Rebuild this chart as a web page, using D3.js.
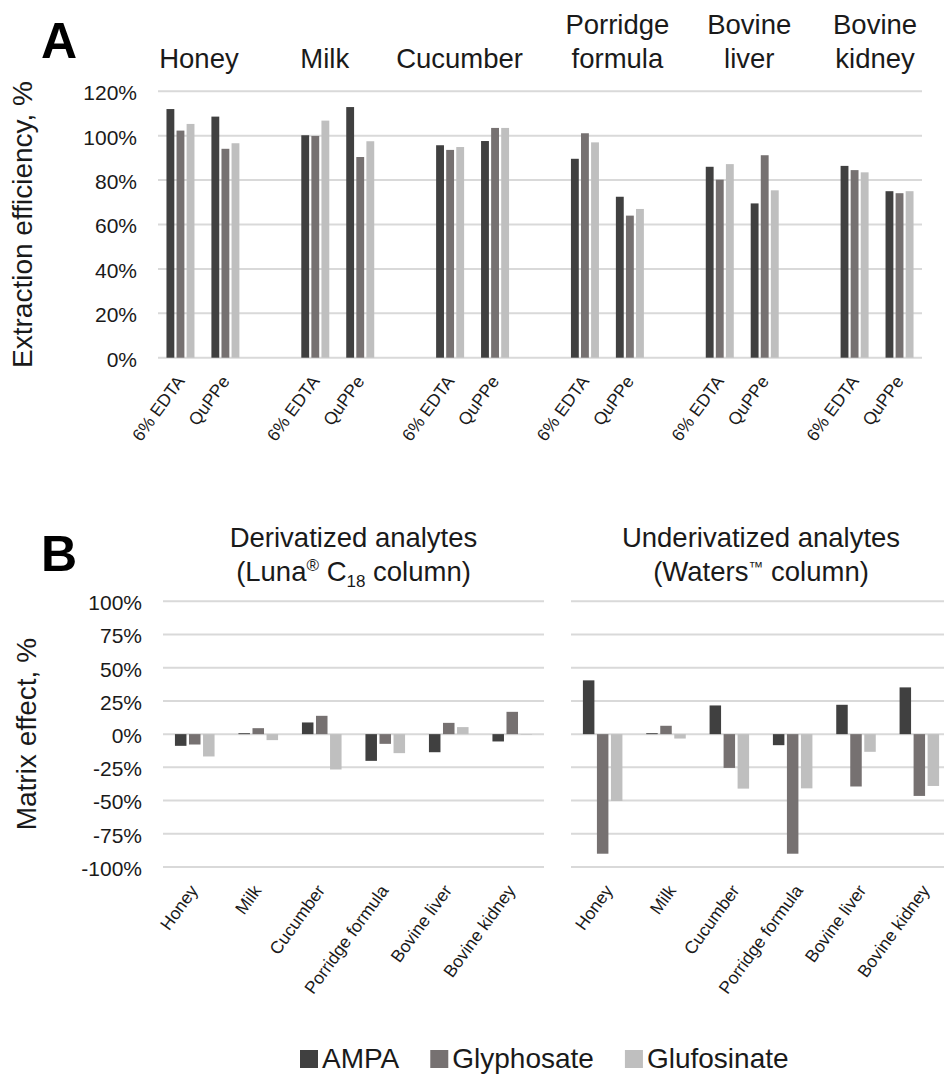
<!DOCTYPE html>
<html lang="en">
<head>
<meta charset="UTF-8">
<title>Extraction efficiency and matrix effect</title>
<script src="https://d3js.org/d3.v7.min.js"></script>
<style>
  body { margin: 0; background: #fff; }
  svg { font-family: 'Liberation Sans', Arial, sans-serif; display: block; }
</style>
</head>
<body>
<div id="chart"></div>
<script>
const series = ["AMPA", "Glyphosate", "Glufosinate"];
const colors = ["#404040", "#767171", "#bfbfbf"];

// panel A: extraction efficiency, [AMPA, Glyphosate, Glufosinate] per sample
const samples = ["Honey", "Milk", "Cucumber", "Porridge formula", "Bovine liver", "Bovine kidney"];
const sampleTitles = [["Honey"], ["Milk"], ["Cucumber"], ["Porridge", "formula"], ["Bovine", "liver"], ["Bovine", "kidney"]];
const methods = ["6% EDTA", "QuPPe"];
const edtaValues = [[112.0, 102.3, 105.3], [100.2, 99.9, 106.8], [95.7, 93.6, 94.9], [89.6, 101.1, 97.0], [86.0, 80.2, 87.2], [86.4, 84.5, 83.5]];
const quppeValues = [[108.6, 94.1, 96.6], [112.9, 90.4, 97.5], [97.6, 103.5, 103.5], [72.5, 64.0, 67.0], [69.5, 91.2, 75.4], [75.0, 74.1, 75.0]];
const effTicks = [0, 20, 40, 60, 80, 100, 120];

// panel B: matrix effect
const matrixLabels = ["Honey", "Milk", "Cucumber", "Porridge formula", "Bovine liver", "Bovine kidney"];
const derivAmpa = [-8.8, 0.7, 8.8, -20.1, -13.6, -5.5];
const derivGlyph = [-7.8, 4.5, 13.8, -7.3, 8.5, 16.8];
const derivGluf = [-16.8, -4.5, -26.6, -14.3, 5.3, -0.4];
const underAmpa = [40.5, 0.7, 21.6, -8.3, 22.1, 35.2];
const underGlyph = [-90, 6.3, -25.4, -90, -39.4, -46.5];
const underGluf = [-50.3, -3.3, -41, -40.8, -13.3, -39];
const matrixTicks = [-100, -75, -50, -25, 0, 25, 50, 75, 100];

const W = 944, H = 1074;
const gridColor = "#d9d9d9";
const textColor = "#1a1a1a";
const labelAngle = -54;

const svg = d3.select("#chart").append("svg")
    .attr("width", W)
    .attr("height", H);

function yAxis(g, scale, ticks) {
    g.call(d3.axisLeft(scale).tickValues(ticks).tickSize(0).tickPadding(0).tickFormat(d => d + "%"))
        .call(g => g.select(".domain").remove())
        .attr("font-family", null)
        .attr("font-size", 21)
        .selectAll("text").attr("fill", textColor).attr("dy", "0.4em");
}

// ---------- Panel A ----------
const aTop = 91.3, aBottom = 357.7, aLeft = 158, aRight = 922;
const slots = d3.range(samples.length * 3 - 1); // EDTA, QuPPe, gap ...
const xA = d3.scaleBand().domain(slots).range([aLeft, aRight]).paddingInner(0.377).paddingOuter(0.1885);
const xA1 = d3.scaleBand().domain(series).range([0, xA.bandwidth()]).paddingInner(0.22);
const yA = d3.scaleLinear().domain([0, 120]).range([aBottom, aTop]);

const gA = svg.append("g");
gA.selectAll(".gridA").data(effTicks).join("line")
    .attr("x1", aLeft).attr("x2", aRight)
    .attr("y1", d => yA(d)).attr("y2", d => yA(d))
    .attr("stroke", gridColor).attr("stroke-width", 2);

gA.append("g").attr("transform", `translate(${aLeft - 21},0)`).call(yAxis, yA, effTicks);

const rowsA = [];
samples.forEach((s, i) => {
    [edtaValues[i], quppeValues[i]].forEach((vals, m) => {
        vals.forEach((v, k) => rowsA.push({ slot: i * 3 + m, key: series[k], value: v, color: colors[k] }));
    });
});

gA.selectAll(".barA").data(rowsA).join("rect")
    .attr("x", d => xA(d.slot) + xA1(d.key))
    .attr("width", xA1.bandwidth())
    .attr("y", d => yA(d.value))
    .attr("height", d => yA(0) - yA(d.value))
    .attr("fill", d => d.color);

// method labels under the bars
const methodRows = [];
samples.forEach((s, i) => methods.forEach((m, j) => methodRows.push({ slot: i * 3 + j, label: m })));
gA.selectAll(".methodLabel").data(methodRows).join("text")
    .attr("transform", d => `translate(${xA(d.slot) + xA.bandwidth() / 2},${aBottom + 20}) rotate(${labelAngle})`)
    .attr("text-anchor", "end")
    .attr("dy", "0.35em")
    .attr("font-size", 17.5)
    .attr("fill", textColor)
    .text(d => d.label);

// sample titles above the plot
const titleDx = [-4, -13, -13, 10, 7, -2];
sampleTitles.forEach((lines, i) => {
    const cx = (xA(i * 3) + xA(i * 3 + 1) + xA.bandwidth()) / 2 + titleDx[i];
    lines.forEach((line, j) => {
        gA.append("text")
            .attr("x", cx)
            .attr("y", 68 - (lines.length - 1 - j) * 34)
            .attr("text-anchor", "middle")
            .attr("font-size", 27.5)
            .attr("fill", textColor)
            .text(line);
    });
});

gA.append("text").attr("x", 41).attr("y", 58)
    .attr("font-size", 50).attr("font-weight", "bold").attr("fill", "#000").text("A");

gA.append("text")
    .attr("transform", `translate(32,${(aTop + aBottom) / 2}) rotate(-90)`)
    .attr("text-anchor", "middle")
    .attr("font-size", 28)
    .attr("fill", textColor)
    .text("Extraction efficiency, %");

// ---------- Panel B ----------
const bTop = 601.3, bBottom = 867;
const yB = d3.scaleLinear().domain([-100, 100]).range([bBottom, bTop]);

function drawMatrix(x0, x1, cols, labelDx, titleLine1, titleLine2) {
    const g = svg.append("g");
    const xB = d3.scaleBand().domain(matrixLabels).range([x0, x1]).paddingInner(0.376).paddingOuter(0.188);
    const xB1 = d3.scaleBand().domain(series).range([0, xB.bandwidth()]).paddingInner(0.18);

    g.selectAll(".gridB").data(matrixTicks).join("line")
        .attr("x1", x0).attr("x2", x1)
        .attr("y1", d => yB(d)).attr("y2", d => yB(d))
        .attr("stroke", gridColor).attr("stroke-width", 2);

    const rows = [];
    matrixLabels.forEach((c, i) => cols.forEach((vals, k) => rows.push({ cat: c, key: series[k], value: vals[i], color: colors[k] })));

    g.selectAll(".barB").data(rows).join("rect")
        .attr("x", d => xB(d.cat) + xB1(d.key))
        .attr("width", xB1.bandwidth())
        .attr("y", d => yB(Math.max(0, d.value)))
        .attr("height", d => Math.abs(yB(d.value) - yB(0)))
        .attr("fill", d => d.color);

    g.selectAll(".catLabel").data(matrixLabels).join("text")
        .attr("transform", d => `translate(${xB(d) + xB.bandwidth() / 2 + labelDx},${bBottom + 20}) rotate(${labelAngle})`)
        .attr("text-anchor", "end")
        .attr("dy", "0.35em")
        .attr("font-size", 17.5)
        .attr("fill", textColor)
        .text(d => d);

    const cx = (x0 + x1) / 2;
    g.append("text").attr("x", cx).attr("y", 547)
        .attr("text-anchor", "middle").attr("font-size", 27.5).attr("fill", textColor)
        .text(titleLine1);
    const t2 = g.append("text").attr("x", cx).attr("y", 581)
        .attr("text-anchor", "middle").attr("font-size", 27.5).attr("fill", textColor);
    titleLine2(t2);
    return g;
}

drawMatrix(163, 544, [derivAmpa, derivGlyph, derivGluf], -1, "Derivatized analytes", t => {
    t.append("tspan").text("(Luna");
    t.append("tspan").attr("font-size", 17).attr("dy", -10).text("®");
    t.append("tspan").attr("dy", 10).text(" C");
    t.append("tspan").attr("font-size", 17).attr("dy", 6).text("18");
    t.append("tspan").attr("dy", -6).text(" column)");
});
drawMatrix(571, 951, [underAmpa, underGlyph, underGluf], 6, "Underivatized analytes", t => {
    t.append("tspan").text("(Waters");
    t.append("tspan").attr("font-size", 15).attr("dy", -9).text("\u2122");
    t.append("tspan").attr("dy", 9).text(" column)");
});

svg.append("g").attr("transform", `translate(${163 - 21},0)`).call(yAxis, yB, matrixTicks);

svg.append("text").attr("x", 41).attr("y", 571)
    .attr("font-size", 50).attr("font-weight", "bold").attr("fill", "#000").text("B");

svg.append("text")
    .attr("transform", `translate(36,${(bTop + bBottom) / 2}) rotate(-90)`)
    .attr("text-anchor", "middle")
    .attr("font-size", 28)
    .attr("fill", textColor)
    .text("Matrix effect, %");

// ---------- Legend ----------
const legend = svg.append("g");
let lx = 300;
series.forEach((s, k) => {
    legend.append("rect").attr("x", lx).attr("y", 1050).attr("width", 18).attr("height", 18).attr("fill", colors[k]);
    const t = legend.append("text").attr("x", lx + 22).attr("y", 1068)
        .attr("font-size", 28).attr("fill", textColor).text(s);
    lx += 22 + t.node().getComputedTextLength() + 31;
});
</script>
</body>
</html>
